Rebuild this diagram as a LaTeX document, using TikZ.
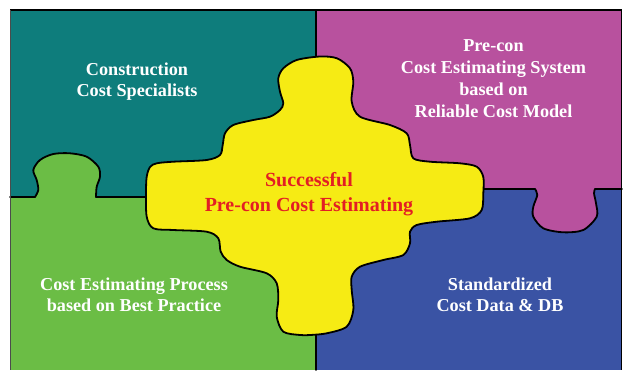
\documentclass[tikz,border=0pt]{standalone}
\usepackage{fontspec}
\setmainfont{Liberation Serif}
\definecolor{cteal}{HTML}{0E7D7C}
\definecolor{cpurple}{HTML}{B8519E}
\definecolor{cgreen}{HTML}{6BBD45}
\definecolor{cblue}{HTML}{3A53A4}
\definecolor{cyellow}{HTML}{F6EB14}
\definecolor{cred}{HTML}{E31E24}
\begin{document}
\begin{tikzpicture}[x=1pt,y=-1pt,
  edge/.style={draw=black,line width=1.8pt,line join=round,line cap=round},
  lbl/.style={font=\bfseries\fontsize{18.2}{21.7}\selectfont,text=white,align=center,inner sep=0pt,anchor=base},
  ctr/.style={font=\bfseries\fontsize{20}{25}\selectfont,text=cred,align=center,inner sep=0pt,anchor=base}]
\useasboundingbox (0,0) rectangle (623,370);
% quadrants
\fill[cteal] (10,10) rectangle (316,197);
\fill[cpurple] (316,10) rectangle (622,189);
\fill[cgreen] (10,197) rectangle (316,370);
\fill[cblue] (316,189) rectangle (622,370);
% tabs
\fill[cgreen] plot[smooth] coordinates {(35,197.5) (38.3,190) (36.7,180) (33.3,170) (40,160) (53.3,154) (70,153.3) (86.7,156.7) (98.3,166.7) (100,176.7) (96.7,186.7) (96,197.5)} -- cycle;
\fill[cpurple] plot[smooth] coordinates {(535,188.5) (537.3,195) (533.3,206.7) (533.3,216.7) (543.3,228.3) (563.3,232.3) (583.3,230) (596.7,216.7) (596,203.3) (594,193.3) (595,188.5)} -- cycle;
% dividers
\draw[edge] (10,197) -- (35,197);
\draw[edge] plot[smooth] coordinates {(35,197) (38.3,190) (36.7,180) (33.3,170) (40,160) (53.3,154) (70,153.3) (86.7,156.7) (98.3,166.7) (100,176.7) (96.7,186.7) (96,197)};
\draw[edge] (96,197) -- (160,197);
\draw[edge] (470,189) -- (535,189);
\draw[edge] plot[smooth] coordinates {(535,189) (537.3,195) (533.3,206.7) (533.3,216.7) (543.3,228.3) (563.3,232.3) (583.3,230) (596.7,216.7) (596,203.3) (594,193.3) (595,189)};
\draw[edge] (595,189) -- (622,189);
\draw[edge] (316,10) -- (316,370);
% frame
\draw[line width=1.8pt,black] (10,10) -- (621.5,10) -- (621.5,370);
\draw[line width=1.6pt,black!70] (10.5,10) -- (10.5,370);
% centre piece
\draw[edge,fill=cyellow] plot[smooth cycle,tension=0.5] coordinates {
(296.7,60) (320,56.5) (337,58.3) (350,68.3) (353.3,81.7) (351.7,101.7) (360,116.7) (390,125) (406.7,133.3) (410,145) (413.3,158.3) (430,161.7) (460,163.3) (476.7,166.7) (483.3,177) (483.3,193.3) (481.7,210) (470,218.3) (436.7,221.7) (416.7,225) (410,231.7) (410,243.3) (403.3,255) (383.3,260) (360,266.7) (351.7,276.7) (351.7,290) (353.3,310) (346.7,326.7) (326.7,333.3) (310,335) (300,335) (283.3,331.7) (276.7,316.7) (278.3,300) (276.7,283.3) (266.7,273.3) (240,266.7) (226.7,260) (220.7,251.7) (218.3,238.3) (206.7,231.7) (173.3,230) (153.3,228.3) (146.7,216.7) (146,193) (146.7,176.7) (150,167) (156.7,163.3) (173.3,161.7) (206.7,160) (220,155) (222.7,145) (225,133.3) (233.3,125) (253.3,120) (270,116.7) (280,110) (283.3,103.3) (280,91.7) (278.3,78.3) (283.3,68.3)};
% labels (anchor=base is the baseline of the last line)
\node[lbl] (t1) at (137,96.7) {Construction\\Cost Specialists};
\node[lbl] (t2) at (493.5,117) {Pre-con\\Cost Estimating System\\based on\\Reliable Cost Model};
\node[lbl] (t3) at (134,311.7) {Cost Estimating Process\\based on Best Practice};
\node[lbl] (t4) at (500,311.7) {Standardized\\Cost Data \& DB};
\node[ctr] (t0) at (309,211.7) {Successful\\Pre-con Cost Estimating};
\end{tikzpicture}
\end{document}
